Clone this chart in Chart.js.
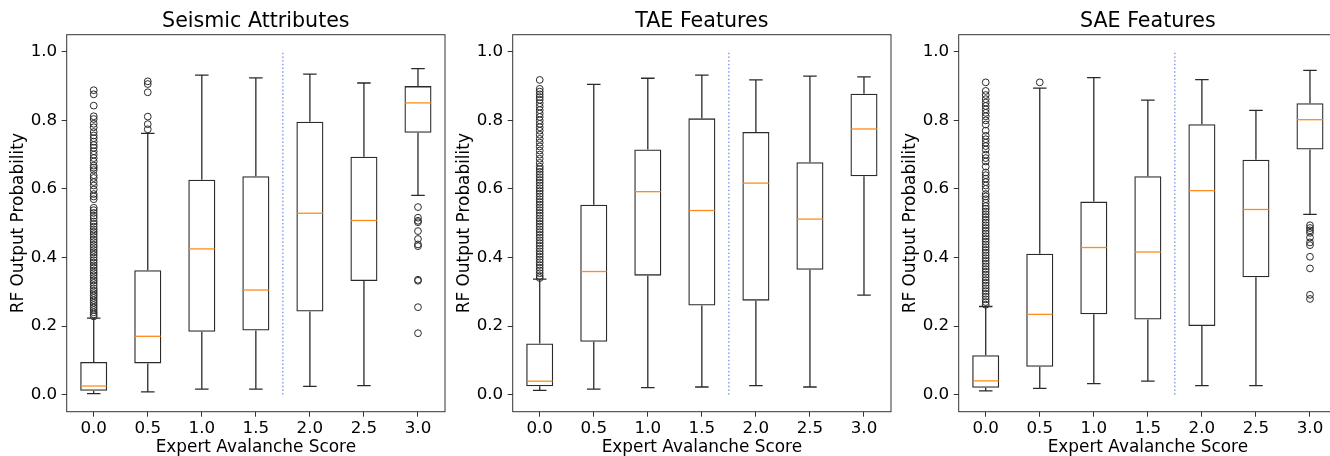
<!DOCTYPE html>
<html lang="en">
<head>
    <meta charset="UTF-8">
    <title>RF Output Probability vs Expert Avalanche Score</title>
    <script src="https://cdn.jsdelivr.net/npm/chart.js"></script>
    <style>
        html, body { margin: 0; padding: 0; background: #fff; overflow: hidden; }
        #wrap { position: relative; width: 1330px; height: 456px; overflow: hidden; }
        .panel { position: absolute; top: 0; width: 450px; height: 456px; }
    </style>
</head>
<body>
    <div id="wrap">
        <div class="panel" style="left:0px"><canvas id="seismic"></canvas></div>
        <div class="panel" style="left:446px"><canvas id="tae"></canvas></div>
        <div class="panel" style="left:892px"><canvas id="sae"></canvas></div>
    </div>

    <script>
        const scores = ['0.0', '0.5', '1.0', '1.5', '2.0', '2.5', '3.0'];
        const yTicks = [0.0, 0.2, 0.4, 0.6, 0.8, 1.0];

        // Seismic Attributes
        const seismicQ1 = [0.011, 0.091, 0.183, 0.187, 0.242, 0.331, 0.764];
        const seismicMedian = [0.025, 0.170, 0.425, 0.305, 0.529, 0.508, 0.851];
        const seismicQ3 = [0.095, 0.363, 0.627, 0.637, 0.796, 0.694, 0.900];
        const seismicLow = [0.003, 0.008, 0.016, 0.016, 0.024, 0.026, 0.581];
        const seismicHigh = [0.223, 0.762, 0.932, 0.924, 0.935, 0.909, 0.951];
        const seismicFliers = [
            [0.888, 0.876, 0.843, 0.812, 0.804, 0.79, 0.78, 0.766, 0.756, 0.748, 0.738, 0.728, 0.72, 0.71,
             0.70, 0.69, 0.68, 0.668, 0.662, 0.655, 0.64, 0.632, 0.62, 0.61, 0.598, 0.585, 0.578, 0.57,
             0.545, 0.538, 0.53, 0.522, 0.515, 0.505, 0.498, 0.49, 0.482, 0.475, 0.468, 0.46, 0.452,
             0.445, 0.437, 0.43, 0.422, 0.415, 0.408, 0.40, 0.392, 0.385, 0.377, 0.37, 0.362, 0.355,
             0.348, 0.34, 0.333, 0.326, 0.318, 0.31, 0.303, 0.296, 0.289, 0.282, 0.275, 0.268, 0.261,
             0.254, 0.247, 0.24, 0.234, 0.228],
            [0.914, 0.906, 0.882, 0.811, 0.789, 0.774],
            [], [], [], [],
            [0.547, 0.516, 0.507, 0.503, 0.477, 0.454, 0.438, 0.433, 0.335, 0.332, 0.255, 0.179]
        ];

        // TAE Features
        const taeQ1 = [0.024, 0.154, 0.347, 0.260, 0.274, 0.364, 0.637];
        const taeMedian = [0.039, 0.359, 0.592, 0.537, 0.617, 0.512, 0.775];
        const taeQ3 = [0.149, 0.554, 0.715, 0.806, 0.766, 0.678, 0.878];
        const taeLow = [0.012, 0.016, 0.020, 0.022, 0.026, 0.022, 0.290];
        const taeHigh = [0.337, 0.905, 0.923, 0.932, 0.918, 0.929, 0.927];
        const taeFliers = [
            [0.918, 0.892, 0.884, 0.876, 0.868, 0.86, 0.85, 0.84, 0.83, 0.82, 0.81, 0.80, 0.79, 0.78,
             0.77, 0.758, 0.746, 0.735, 0.724, 0.712, 0.70, 0.688, 0.676, 0.665, 0.658, 0.65, 0.642,
             0.634, 0.626, 0.618, 0.61, 0.602, 0.594, 0.586, 0.578, 0.57, 0.562, 0.554, 0.546, 0.538,
             0.53, 0.522, 0.514, 0.506, 0.498, 0.49, 0.482, 0.474, 0.466, 0.458, 0.45, 0.442, 0.434,
             0.426, 0.418, 0.41, 0.402, 0.394, 0.386, 0.378, 0.37, 0.362, 0.354, 0.346, 0.34],
            [], [], [], [], [], []
        ];

        // SAE Features
        const saeQ1 = [0.020, 0.081, 0.234, 0.219, 0.200, 0.342, 0.715];
        const saeMedian = [0.040, 0.234, 0.429, 0.416, 0.595, 0.540, 0.802];
        const saeQ3 = [0.115, 0.411, 0.563, 0.637, 0.789, 0.685, 0.850];
        const saeLow = [0.011, 0.018, 0.032, 0.039, 0.026, 0.026, 0.526];
        const saeHigh = [0.257, 0.894, 0.925, 0.859, 0.919, 0.829, 0.946];
        const saeFliers = [
            [0.911, 0.886, 0.874, 0.862, 0.852, 0.842, 0.832, 0.822, 0.812, 0.80, 0.788, 0.77, 0.755,
             0.745, 0.735, 0.725, 0.715, 0.70, 0.69, 0.68, 0.665, 0.648, 0.64, 0.63, 0.62, 0.61, 0.60,
             0.585, 0.578, 0.57, 0.56, 0.55, 0.542, 0.534, 0.526, 0.518, 0.51, 0.502, 0.494, 0.486,
             0.478, 0.47, 0.462, 0.454, 0.446, 0.438, 0.43, 0.422, 0.414, 0.406, 0.398, 0.39, 0.382,
             0.374, 0.366, 0.358, 0.35, 0.342, 0.334, 0.326, 0.318, 0.31, 0.302, 0.294, 0.286, 0.278,
             0.27, 0.262],
            [0.911],
            [], [], [], [],
            [0.494, 0.486, 0.479, 0.472, 0.458, 0.444, 0.436, 0.402, 0.368, 0.291, 0.279]
        ];

        // divider sits between the '1.5' and '2.0' categories
        const dividerAt = 3.5;

        const FONT = 'DejaVu Sans';
        const INK = '#2a2a2a';

        // whiskers, caps, medians, divider, frame and a title centred on the plot area
        const boxExtras = {
            id: 'boxExtras',
            afterDatasetsDraw(chart, args, opts) {
                const ctx = chart.ctx;
                const x = chart.scales.x, y = chart.scales.y;
                const bars = chart.getDatasetMeta(0).data;
                ctx.save();
                bars.forEach((bar, i) => {
                    const cx = bar.x, half = bar.width / 2;
                    ctx.strokeStyle = INK;
                    ctx.lineWidth = 1.3;
                    ctx.beginPath();
                    ctx.moveTo(cx, y.getPixelForValue(opts.q3[i]));
                    ctx.lineTo(cx, y.getPixelForValue(opts.high[i]));
                    ctx.moveTo(cx, y.getPixelForValue(opts.q1[i]));
                    ctx.lineTo(cx, y.getPixelForValue(opts.low[i]));
                    ctx.moveTo(cx - half / 2, y.getPixelForValue(opts.high[i]));
                    ctx.lineTo(cx + half / 2, y.getPixelForValue(opts.high[i]));
                    ctx.moveTo(cx - half / 2, y.getPixelForValue(opts.low[i]));
                    ctx.lineTo(cx + half / 2, y.getPixelForValue(opts.low[i]));
                    ctx.stroke();

                    ctx.strokeStyle = '#ff8c1a';
                    ctx.lineWidth = 1.3;
                    ctx.beginPath();
                    ctx.moveTo(cx - half + 0.7, y.getPixelForValue(opts.median[i]));
                    ctx.lineTo(cx + half - 0.7, y.getPixelForValue(opts.median[i]));
                    ctx.stroke();
                });

                const dx = x.getPixelForValue(dividerAt);
                ctx.strokeStyle = '#4169e1';
                ctx.lineWidth = 1;
                ctx.setLineDash([1.4, 2.3]);
                ctx.beginPath();
                ctx.moveTo(dx, y.getPixelForValue(0));
                ctx.lineTo(dx, y.getPixelForValue(1));
                ctx.stroke();
                ctx.setLineDash([]);

                const a = chart.chartArea;
                ctx.strokeStyle = '#333';
                ctx.lineWidth = 1;
                ctx.strokeRect(a.left, a.top, a.right - a.left, a.bottom - a.top);

                ctx.fillStyle = '#000';
                ctx.font = '20.6px "' + FONT + '"';
                ctx.textAlign = 'center';
                ctx.textBaseline = 'middle';
                ctx.fillText(opts.title, (a.left + a.right) / 2, 21.5);
                ctx.restore();
            }
        };

        function makePanel(id, title, q1, median, q3, low, high, fliers) {
            const flierPoints = [];
            fliers.forEach((vals, i) => vals.forEach(v => flierPoints.push({ x: scores[i], y: v })));

            return new Chart(document.getElementById(id), {
                type: 'bar',
                data: {
                    labels: scores,
                    datasets: [{
                        data: q1.map((v, i) => [v, q3[i]]),
                        backgroundColor: 'rgba(0,0,0,0)',
                        borderColor: INK,
                        borderWidth: 1.3,
                        borderSkipped: false,
                        barPercentage: 0.5,
                        categoryPercentage: 1.0
                    }, {
                        type: 'line',
                        data: flierPoints,
                        showLine: false,
                        pointRadius: 3.4,
                        pointBorderWidth: 1,
                        pointBorderColor: INK,
                        pointBackgroundColor: 'rgba(0,0,0,0)'
                    }]
                },
                options: {
                    responsive: true,
                    maintainAspectRatio: false,
                    animation: false,
                    layout: { padding: { left: 0, right: 3, top: 34.7, bottom: 0 } },
                    plugins: {
                        legend: { display: false },
                        tooltip: { enabled: false },
                        boxExtras: { title, q1, median, q3, low, high }
                    },
                    scales: {
                        x: {
                            offset: true,
                            grid: { display: true, drawOnChartArea: false, offset: false, tickLength: 5, color: '#333' },
                            border: { display: false },
                            ticks: { color: '#000', padding: 2, font: { family: FONT, size: 16.7 } },
                            title: {
                                display: true,
                                text: 'Expert Avalanche Score',
                                color: '#000',
                                font: { family: FONT, size: 16.9 },
                                padding: { top: 0, bottom: -1.5 }
                            },
                            afterFit(scale) { scale.height = 44.3; }
                        },
                        y: {
                            min: -0.05,
                            max: 1.05,
                            afterBuildTicks(scale) { scale.ticks = yTicks.map(v => ({ value: v })); },
                            grid: { display: true, drawOnChartArea: false, tickLength: 5, color: '#333' },
                            border: { display: false },
                            ticks: {
                                color: '#000',
                                padding: 4.5,
                                font: { family: FONT, size: 16.7 },
                                callback: v => v.toFixed(1)
                            },
                            title: {
                                display: true,
                                text: 'RF Output Probability',
                                color: '#000',
                                font: { family: FONT, size: 16.9 },
                                padding: { top: 8, bottom: 0 }
                            },
                            afterFit(scale) { scale.width = 66.7; }
                        }
                    }
                },
                plugins: [boxExtras]
            });
        }

        makePanel('seismic', 'Seismic Attributes', seismicQ1, seismicMedian, seismicQ3, seismicLow, seismicHigh, seismicFliers);
        makePanel('tae', 'TAE Features', taeQ1, taeMedian, taeQ3, taeLow, taeHigh, taeFliers);
        makePanel('sae', 'SAE Features', saeQ1, saeMedian, saeQ3, saeLow, saeHigh, saeFliers);
    </script>
</body>
</html>
